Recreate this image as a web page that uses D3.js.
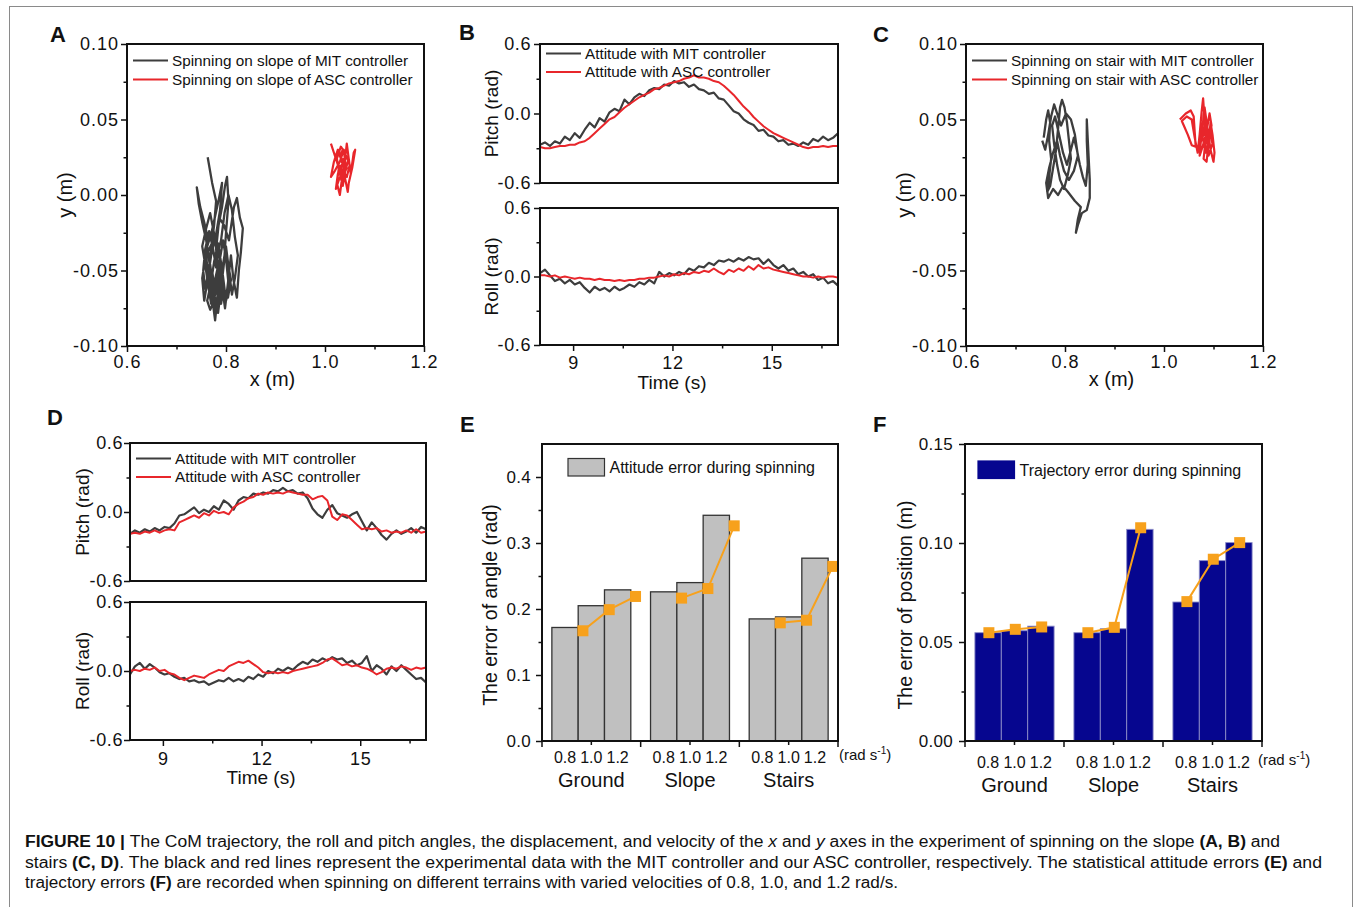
<!DOCTYPE html>
<html>
<head>
<meta charset="utf-8">
<script src="https://cdn.jsdelivr.net/npm/d3@7"></script>
<style>
  body { margin: 0; background: #fff; }
  svg text { font-family: "Liberation Sans", Arial, Helvetica, sans-serif; fill: #111; }
</style>
</head>
<body>
<svg id="fig" width="1355" height="907"></svg>
<script>
// ---------- data ----------

// A: CoM trajectory on slope (x, y in m)
const slopeTrajMIT = [
  [0.763,0.025],[0.772,0.008],[0.780,-0.004],[0.776,-0.020],[0.770,-0.035],[0.765,-0.050],[0.772,-0.068],[0.778,-0.083],
  [0.782,-0.070],[0.786,-0.052],[0.780,-0.036],[0.785,-0.020],[0.792,-0.008],[0.798,0.006],[0.802,0.012],[0.805,-0.004],
  [0.800,-0.025],[0.796,-0.045],[0.790,-0.062],[0.784,-0.078],[0.776,-0.065],[0.768,-0.048],[0.760,-0.030],[0.752,-0.018],
  [0.745,-0.006],[0.741,0.005],[0.748,-0.008],[0.756,-0.018],[0.763,-0.028],[0.758,-0.042],[0.752,-0.055],[0.756,-0.070],
  [0.762,-0.058],[0.770,-0.040],[0.778,-0.028],[0.788,-0.016],[0.796,-0.020],[0.806,-0.030],[0.816,-0.008],[0.822,-0.002],
  [0.828,-0.015],[0.834,-0.022],[0.830,-0.038],[0.826,-0.050],[0.822,-0.068],[0.815,-0.056],[0.810,-0.040],[0.804,-0.058],
  [0.798,-0.075],[0.792,-0.060],[0.786,-0.044],[0.778,-0.056],[0.770,-0.072],[0.764,-0.060],[0.758,-0.046],[0.752,-0.034],
  [0.760,-0.022],[0.768,-0.012],[0.775,-0.024],[0.782,-0.040],[0.790,-0.030],[0.797,-0.012],[0.805,0.000],[0.812,-0.010],
  [0.818,-0.028],[0.824,-0.040],[0.818,-0.055],[0.812,-0.066],[0.806,-0.050],[0.800,-0.034],[0.794,-0.048],[0.788,-0.066],
  [0.780,-0.078],[0.774,-0.062],[0.768,-0.046],[0.762,-0.034],[0.770,-0.026],[0.778,-0.014],[0.786,-0.002],[0.792,0.008],
  [0.788,-0.010],[0.780,-0.026],[0.760,-0.040],[0.766,-0.062],[0.772,-0.050],[0.778,-0.066],[0.784,-0.058],[0.790,-0.072],
  [0.796,-0.060],[0.790,-0.046],[0.784,-0.032],[0.776,-0.044],[0.770,-0.058],[0.762,-0.070],[0.768,-0.076],[0.776,-0.070],
  [0.782,-0.056],[0.788,-0.042],[0.794,-0.030],[0.800,-0.042],[0.806,-0.062],[0.800,-0.070],[0.794,-0.054],[0.786,-0.036],
  [0.780,-0.048],[0.774,-0.036],[0.766,-0.024],[0.758,-0.036],[0.754,-0.050],[0.758,-0.062],[0.764,-0.052],[0.772,-0.062],
  [0.780,-0.074],[0.786,-0.064],[0.792,-0.050],[0.798,-0.038],[0.804,-0.046],[0.810,-0.056],[0.804,-0.068],[0.796,-0.064],
  [0.788,-0.050],[0.780,-0.040]
];
const slopeTrajASC = [
  [1.012,0.034],[1.020,0.026],[1.028,0.018],[1.024,0.008],[1.030,0.000],[1.034,0.010],[1.040,0.022],[1.044,0.034],
  [1.048,0.024],[1.052,0.014],[1.058,0.028],[1.061,0.030],[1.055,0.018],[1.048,0.008],[1.046,0.002],[1.040,0.012],
  [1.034,0.024],[1.026,0.030],[1.018,0.022],[1.012,0.012],[1.020,0.016],[1.030,0.022],[1.038,0.030],[1.042,0.018],
  [1.036,0.006],[1.030,0.014],[1.024,0.024],[1.032,0.032],[1.040,0.028],[1.050,0.020],[1.044,0.012],[1.036,0.016],
  [1.028,0.010],[1.022,0.004],[1.026,0.014],[1.034,0.020],[1.042,0.026],[1.036,0.030],[1.030,0.026],[1.040,0.016],
  [1.046,0.022],[1.038,0.012],[1.032,0.018],[1.038,0.024],[1.044,0.018],[1.036,0.012],[1.030,0.020]
];

// C: CoM trajectory on stairs
const stairTrajMIT = [
  [0.757,0.038],[0.762,0.050],[0.766,0.056],[0.770,0.048],[0.768,0.036],[0.772,0.024],[0.768,0.012],[0.764,0.002],
  [0.770,0.006],[0.776,0.018],[0.782,0.030],[0.786,0.044],[0.790,0.058],[0.794,0.063],[0.799,0.058],[0.804,0.048],
  [0.808,0.036],[0.812,0.024],[0.806,0.014],[0.798,0.004],[0.790,0.010],[0.784,0.020],[0.778,0.034],[0.774,0.046],
  [0.780,0.052],[0.788,0.040],[0.796,0.028],[0.804,0.020],[0.812,0.030],[0.818,0.038],[0.824,0.030],[0.830,0.020],
  [0.836,0.012],[0.842,0.006],[0.846,0.020],[0.844,0.036],[0.844,0.050],[0.847,0.030],[0.850,0.010],[0.850,-0.002],
  [0.844,-0.010],[0.834,-0.012],[0.826,-0.020],[0.822,-0.025],[0.826,-0.016],[0.832,-0.008],[0.820,-0.004],[0.806,0.002],
  [0.796,0.006],[0.786,0.000],[0.776,0.004],[0.766,-0.002],[0.762,0.008],[0.768,0.018],[0.776,0.028],[0.784,0.036],
  [0.790,0.026],[0.798,0.016],[0.808,0.010],[0.818,0.016],[0.826,0.026],[0.820,0.040],[0.812,0.050],[0.802,0.054],
  [0.792,0.046],[0.784,0.054],[0.778,0.060],[0.772,0.052],[0.766,0.040],[0.760,0.030],[0.754,0.036]
];
const stairTrajASC = [
  [1.032,0.050],[1.044,0.054],[1.054,0.056],[1.060,0.052],[1.062,0.042],[1.064,0.032],[1.056,0.033],[1.048,0.040],
  [1.040,0.046],[1.036,0.049],[1.046,0.052],[1.056,0.050],[1.062,0.038],[1.068,0.028],[1.072,0.040],[1.076,0.055],
  [1.079,0.064],[1.082,0.050],[1.084,0.036],[1.080,0.024],[1.086,0.022],[1.090,0.034],[1.094,0.048],[1.098,0.040],
  [1.102,0.028],[1.100,0.022],[1.094,0.030],[1.088,0.044],[1.082,0.058],[1.078,0.046],[1.074,0.034],[1.072,0.026],
  [1.078,0.032],[1.086,0.042],[1.092,0.054],[1.096,0.046],[1.090,0.036],[1.084,0.028],[1.078,0.038],[1.084,0.048],
  [1.090,0.026],[1.098,0.034],[1.092,0.042]
];

// B, D: attitude vs time (s, rad)
const timeS = [
  8.00,8.15,8.30,8.45,8.60,8.75,8.90,9.05,9.20,9.35,
  9.50,9.65,9.80,9.95,10.10,10.25,10.40,10.55,10.70,10.85,
  11.00,11.15,11.30,11.45,11.60,11.75,11.90,12.05,12.20,12.35,
  12.50,12.65,12.80,12.95,13.10,13.25,13.40,13.55,13.70,13.85,
  14.00,14.15,14.30,14.45,14.60,14.75,14.90,15.05,15.20,15.35,
  15.50,15.65,15.80,15.95,16.10,16.25,16.40,16.55,16.70,16.85,
  17.00
];
const slopePitchMIT = [
  -0.27,-0.25,-0.28,-0.24,-0.26,-0.20,-0.23,-0.17,-0.21,-0.14,
  -0.08,-0.12,-0.04,-0.07,0.01,0.04,0.02,0.12,0.08,0.14,
  0.17,0.15,0.20,0.22,0.21,0.25,0.24,0.28,0.26,0.27,
  0.23,0.25,0.21,0.20,0.17,0.18,0.13,0.12,0.07,0.02,
  0.00,-0.05,-0.08,-0.10,-0.15,-0.14,-0.19,-0.20,-0.24,-0.23,
  -0.27,-0.26,-0.28,-0.25,-0.27,-0.22,-0.24,-0.20,-0.23,-0.21,
  -0.17
];
const slopePitchASC = [
  -0.29,-0.30,-0.30,-0.29,-0.28,-0.28,-0.27,-0.27,-0.25,-0.24,
  -0.21,-0.17,-0.13,-0.09,-0.05,-0.03,0.01,0.05,0.08,0.11,
  0.14,0.16,0.18,0.21,0.22,0.24,0.26,0.27,0.28,0.30,
  0.31,0.33,0.31,0.31,0.30,0.28,0.27,0.24,0.20,0.16,
  0.11,0.06,0.02,-0.03,-0.07,-0.11,-0.14,-0.17,-0.19,-0.21,
  -0.23,-0.25,-0.27,-0.29,-0.30,-0.29,-0.29,-0.28,-0.29,-0.28,
  -0.28
];
const slopeRollMIT = [
  0.03,0.06,0.01,-0.04,-0.02,-0.06,-0.03,-0.07,-0.05,-0.10,
  -0.14,-0.09,-0.12,-0.10,-0.13,-0.09,-0.12,-0.10,-0.07,-0.09,
  -0.05,-0.07,-0.03,-0.06,0.04,0.00,0.03,0.01,0.04,0.02,
  0.07,0.05,0.09,0.08,0.12,0.10,0.14,0.13,0.15,0.13,
  0.16,0.14,0.17,0.15,0.16,0.11,0.15,0.10,0.07,0.10,
  0.05,0.07,0.02,0.04,0.00,0.02,-0.03,-0.01,-0.06,-0.04,
  -0.08
];
const slopeRollASC = [
  0.01,0.01,0.00,0.01,-0.01,0.00,-0.01,-0.02,-0.01,-0.02,
  -0.02,-0.03,-0.02,-0.03,-0.03,-0.04,-0.03,-0.04,-0.03,-0.03,
  -0.02,-0.02,-0.01,-0.01,0.00,0.01,0.00,0.02,0.01,0.03,
  0.02,0.04,0.03,0.05,0.04,0.07,0.04,0.02,0.06,0.04,
  0.07,0.05,0.09,0.06,0.10,0.07,0.08,0.06,0.05,0.04,
  0.03,0.02,0.01,0.00,0.00,-0.01,0.00,-0.01,0.00,0.00,
  -0.01
];
const stairPitchMIT = [
  -0.19,-0.16,-0.18,-0.15,-0.17,-0.14,-0.16,-0.13,-0.14,-0.10,
  -0.03,-0.02,0.01,0.04,-0.01,0.02,0.00,0.05,0.02,0.10,
  0.07,0.02,0.10,0.13,0.12,0.16,0.15,0.17,0.16,0.19,
  0.18,0.21,0.18,0.19,0.16,0.17,0.12,0.03,-0.02,-0.05,
  0.02,0.06,-0.01,-0.03,-0.05,-0.02,0.00,-0.08,-0.16,-0.09,
  -0.14,-0.20,-0.24,-0.19,-0.16,-0.19,-0.17,-0.14,-0.18,-0.13,
  -0.15
];
const stairPitchASC = [
  -0.19,-0.18,-0.19,-0.17,-0.18,-0.16,-0.18,-0.16,-0.15,-0.16,
  -0.09,-0.07,-0.05,-0.03,-0.05,-0.01,-0.03,0.01,-0.01,0.00,
  -0.02,0.04,0.07,0.09,0.12,0.13,0.16,0.15,0.17,0.16,
  0.17,0.16,0.18,0.17,0.16,0.15,0.15,0.11,0.13,0.14,
  0.10,-0.04,-0.07,-0.02,-0.03,-0.07,-0.11,-0.15,-0.14,-0.15,
  -0.14,-0.17,-0.16,-0.18,-0.17,-0.18,-0.16,-0.18,-0.15,-0.18,
  -0.17
];
const stairRollMIT = [
  -0.03,0.04,0.07,0.02,0.06,0.03,-0.01,-0.03,-0.02,-0.05,
  -0.07,-0.06,-0.09,-0.08,-0.10,-0.09,-0.12,-0.10,-0.08,-0.09,
  -0.06,-0.09,-0.07,-0.09,-0.05,-0.07,-0.03,-0.05,0.00,-0.02,
  0.02,0.00,0.03,0.01,0.05,0.08,0.06,0.10,0.08,0.11,
  0.09,0.12,0.10,0.11,0.07,0.09,0.05,0.07,0.13,0.00,
  0.05,0.02,-0.03,0.04,0.00,0.05,0.01,-0.03,-0.07,-0.06,
  -0.10
];
const stairRollASC = [
  0.00,0.01,0.00,0.02,0.01,0.03,0.00,0.01,-0.02,-0.03,
  -0.06,-0.08,-0.06,-0.04,-0.05,-0.06,-0.03,-0.01,0.01,0.00,
  0.04,0.06,0.08,0.07,0.09,0.06,0.03,-0.01,-0.02,-0.01,
  -0.02,-0.01,-0.02,0.00,0.01,0.02,0.03,0.04,0.05,0.07,
  0.10,0.11,0.08,0.05,0.06,0.04,0.05,0.03,0.02,0.00,
  -0.03,-0.01,0.02,0.03,0.02,0.04,0.03,0.01,0.03,0.02,
  0.03
];

// E, F: statistical errors per terrain and spinning speed
const terrains = ["Ground", "Slope", "Stairs"];
const speeds = ["0.8", "1.0", "1.2"];
const attitudeBars = [[0.172, 0.205, 0.229], [0.226, 0.240, 0.342], [0.185, 0.188, 0.277]];
const attitudeLine = [[0.167, 0.199, 0.219], [0.2165, 0.231, 0.326], [0.179, 0.183, 0.2645]];
const positionBars = [[0.0547, 0.0557, 0.0580], [0.0547, 0.0567, 0.1069], [0.0702, 0.0911, 0.1002]];
const positionLine = [[0.0547, 0.0564, 0.0576], [0.0547, 0.0574, 0.1077], [0.0704, 0.0918, 0.1002]];

// ticks
const trajXTicks = [0.6, 0.8, 1.0, 1.2], trajXMinor = [0.7, 0.9, 1.1];
const trajYTicks = [-0.10, -0.05, 0.00, 0.05, 0.10], trajYMinor = [-0.075, -0.025, 0.025, 0.075];
const timeTicks = [9, 12, 15], timeMinor = [10.5, 13.5, 16.5];
const radTicks = [-0.6, 0.0, 0.6], radMinor = [-0.3, 0.3];
const angleTicks = [0.0, 0.1, 0.2, 0.3, 0.4], angleMinor = [0.05, 0.15, 0.25, 0.35];
const posTicks = [0.00, 0.05, 0.10, 0.15], posMinor = [0.025, 0.075, 0.125];

// ---------- drawing ----------
const FONT = '"Liberation Sans", Arial, Helvetica, sans-serif';
const INK = "#111";
const MIT = "#3d3d3d", ASC = "#e8262b", ORANGE = "#f7a11c";
const svg = d3.select("#fig");

svg.append("rect").attr("x", 9.5).attr("y", 6.5).attr("width", 1343).attr("height", 930)
  .attr("fill", "none").attr("stroke", "#8a8a8a").attr("stroke-width", 1);

function styleAxis(a, st) {
  a.select(".domain").remove();
  a.attr("font-family", FONT).attr("font-size", st.fs);
  a.selectAll("line").attr("stroke", INK).attr("stroke-width", 1.5);
  a.selectAll("text").attr("fill", INK).attr("letter-spacing", st.ls || 0);
}

function leftAxis(scale, x, majors, minors, fmt, st) {
  const a = svg.append("g").attr("transform", `translate(${x},0)`)
    .call(d3.axisLeft(scale).tickValues(majors).tickFormat(fmt).tickSize(6).tickPadding(st.pad));
  styleAxis(a, st);
  const m = svg.append("g").attr("transform", `translate(${x},0)`)
    .call(d3.axisLeft(scale).tickValues(minors).tickFormat("").tickSize(3.5));
  styleAxis(m, st);
}

function bottomAxis(scale, y, majors, minors, fmt, st) {
  const a = svg.append("g").attr("transform", `translate(0,${y})`)
    .call(d3.axisBottom(scale).tickValues(majors).tickFormat(fmt).tickSize(6).tickPadding(st.pad));
  styleAxis(a, st);
  const m = svg.append("g").attr("transform", `translate(0,${y})`)
    .call(d3.axisBottom(scale).tickValues(minors).tickFormat("").tickSize(3.5));
  styleAxis(m, st);
}

function frame(x0, y0, x1, y1) {
  svg.append("rect").attr("x", x0).attr("y", y0).attr("width", x1 - x0).attr("height", y1 - y0)
    .attr("fill", "none").attr("stroke", INK).attr("stroke-width", 2);
}

function panelLetter(t, x, y) {
  svg.append("text").attr("x", x).attr("y", y).attr("font-size", 22).attr("font-weight", "bold").text(t);
}

function yTitle(t, cx, cy, fs) {
  svg.append("text").attr("transform", `translate(${cx},${cy}) rotate(-90)`)
    .attr("text-anchor", "middle").attr("dy", "0.35em").attr("font-size", fs).text(t);
}

function xTitle(t, cx, baseline, fs) {
  svg.append("text").attr("x", cx).attr("y", baseline).attr("text-anchor", "middle")
    .attr("font-size", fs).text(t);
}

function lineLegend(x, y, labels, gap) {
  labels.forEach((lab, i) => {
    const yy = y + i * gap;
    svg.append("line").attr("x1", x).attr("x2", x + 35).attr("y1", yy).attr("y2", yy)
      .attr("stroke", i === 0 ? MIT : ASC).attr("stroke-width", 2.2);
    svg.append("text").attr("x", x + 39).attr("y", yy).attr("dy", "0.35em")
      .attr("font-size", 15.3).text(lab);
  });
}

const fmt2 = v => v.toFixed(2), fmt1 = v => v.toFixed(1);

// trajectory panels (A, C)
function trajPanel(box, mit, asc, letter, letterX, labels, yTitleX) {
  const x = d3.scaleLinear().domain([0.6, 1.2]).range([box.x0, box.x1]);
  const y = d3.scaleLinear().domain([-0.10, 0.10]).range([box.y1, box.y0]);
  const line = d3.line().x(d => x(d[0])).y(d => y(d[1]));
  svg.append("path").datum(mit).attr("d", line).attr("fill", "none")
    .attr("stroke", MIT).attr("stroke-width", 2.3).attr("stroke-linejoin", "round");
  svg.append("path").datum(asc).attr("d", line).attr("fill", "none")
    .attr("stroke", ASC).attr("stroke-width", 2.2).attr("stroke-linejoin", "round");
  frame(box.x0, box.y0, box.x1, box.y1);
  leftAxis(y, box.x0, trajYTicks, trajYMinor, fmt2, { fs: 18, pad: 2, ls: 1 });
  bottomAxis(x, box.y1, trajXTicks, trajXMinor, fmt1, { fs: 18, pad: 3, ls: 1 });
  xTitle("x (m)", (box.x0 + box.x1) / 2 - 3, 386, 20);
  yTitle("y (m)", yTitleX, y(0), 20);
  lineLegend(box.x0 + 6, 60.5, labels, 19);
  panelLetter(letter, letterX, 42);
}

trajPanel({ x0: 127, x1: 424, y0: 44, y1: 346 }, slopeTrajMIT, slopeTrajASC, "A", 50,
  ["Spinning on slope of MIT controller", "Spinning on slope of ASC controller"], 65);
trajPanel({ x0: 966, x1: 1263, y0: 44, y1: 346 }, stairTrajMIT, stairTrajASC, "C", 873,
  ["Spinning on stair with MIT controller", "Spinning on stair with ASC controller"], 904);

// attitude panels (B, D)
function attitudePanel(cfg) {
  const x = d3.scaleLinear().domain([8, 17]).range([cfg.x0, cfg.x1]);
  const plots = [
    { y0: cfg.p0, y1: cfg.p1, mit: cfg.pitchMIT, asc: cfg.pitchASC, title: "Pitch (rad)" },
    { y0: cfg.r0, y1: cfg.r1, mit: cfg.rollMIT, asc: cfg.rollASC, title: "Roll (rad)" }
  ];
  plots.forEach((p, k) => {
    const y = d3.scaleLinear().domain([-0.6, 0.6]).range([p.y1, p.y0]);
    const line = d3.line().x((d, i) => x(timeS[i])).y(d => y(d));
    svg.append("path").datum(p.mit).attr("d", line).attr("fill", "none")
      .attr("stroke", MIT).attr("stroke-width", 2.2).attr("stroke-linejoin", "round");
    svg.append("path").datum(p.asc).attr("d", line).attr("fill", "none")
      .attr("stroke", ASC).attr("stroke-width", 2).attr("stroke-linejoin", "round");
    frame(cfg.x0, p.y0, cfg.x1, p.y1);
    leftAxis(y, cfg.x0, radTicks, radMinor, fmt1, { fs: 18, pad: cfg.ypad, ls: 0.6 });
    yTitle(p.title, cfg.titleX, y(0), 19);
    if (k === 1) bottomAxis(x, p.y1, timeTicks, timeMinor, d3.format("d"), { fs: 18, pad: cfg.xpad, ls: 0.6 });
  });
  xTitle("Time (s)", (cfg.x0 + cfg.x1) / 2 - 17, cfg.timeBase, 19);
  lineLegend(cfg.x0 + 6, cfg.legY, ["Attitude with MIT controller", "Attitude with ASC controller"], 18.5);
}

attitudePanel({ x0: 540, x1: 838, p0: 44, p1: 183, r0: 208, r1: 345, titleX: 491, timeBase: 389, legY: 53.5,
  ypad: 3, xpad: 5,
  pitchMIT: slopePitchMIT, pitchASC: slopePitchASC, rollMIT: slopeRollMIT, rollASC: slopeRollASC });
panelLetter("B", 459, 40);
attitudePanel({ x0: 130, x1: 426, p0: 443, p1: 581, r0: 602, r1: 740, titleX: 82, timeBase: 784, legY: 458.5,
  ypad: 1, xpad: 6,
  pitchMIT: stairPitchMIT, pitchASC: stairPitchASC, rollMIT: stairRollMIT, rollASC: stairRollASC });
panelLetter("D", 47, 425);

// bar panels (E, F)
function barPanel(cfg) {
  const gx = d3.scaleBand().domain(terrains).range([cfg.x0, cfg.x1]).paddingInner(0).paddingOuter(0);
  const bx = d3.scaleBand().domain(speeds).range([0, gx.bandwidth() * 0.8]);
  const innerShift = gx.bandwidth() * 0.1;
  const y = d3.scaleLinear().domain(cfg.domain).range([cfg.y1, cfg.y0]);

  const groups = svg.append("g").selectAll("g").data(terrains).join("g")
    .attr("transform", t => `translate(${gx(t) + innerShift},0)`);
  groups.selectAll("rect").data((t, gi) => cfg.bars[gi].map((v, si) => ({ v, s: speeds[si] })))
    .join("rect")
    .attr("x", d => bx(d.s)).attr("width", bx.bandwidth())
    .attr("y", d => y(d.v)).attr("height", d => y(0) - y(d.v))
    .attr("fill", cfg.fill).attr("stroke", cfg.stroke).attr("stroke-width", cfg.strokeW);

  const mx = s => bx(s) + bx.bandwidth() * (0.5 + cfg.markShift);
  const ln = d3.line().x(d => mx(d.s)).y(d => y(d.v));
  groups.append("path").datum((t, gi) => cfg.line[gi].map((v, si) => ({ v, s: speeds[si] })))
    .attr("d", ln).attr("fill", "none").attr("stroke", ORANGE).attr("stroke-width", 2);
  groups.selectAll("rect.mk").data((t, gi) => cfg.line[gi].map((v, si) => ({ v, s: speeds[si] })))
    .join("rect").attr("class", "mk")
    .attr("x", d => mx(d.s) - 5.5).attr("y", d => y(d.v) - 5.5)
    .attr("width", 11).attr("height", 11).attr("fill", ORANGE);

  frame(cfg.x0, cfg.y0, cfg.x1, cfg.y1);
  leftAxis(y, cfg.x0, cfg.ticks, cfg.minor, cfg.fmt, { fs: 17, pad: cfg.ypad, ls: 0.3 });

  // category axis: major ticks at group borders, minor at group centres
  const border = [cfg.x0].concat(terrains.map(t => gx(t) + gx.bandwidth()));
  svg.append("g").selectAll("line").data(border).join("line")
    .attr("x1", d => d).attr("x2", d => d).attr("y1", cfg.y1).attr("y2", cfg.y1 + 6)
    .attr("stroke", INK).attr("stroke-width", 1.5);
  svg.append("g").selectAll("line").data(terrains).join("line")
    .attr("x1", t => gx(t) + gx.bandwidth() / 2).attr("x2", t => gx(t) + gx.bandwidth() / 2)
    .attr("y1", cfg.y1).attr("y2", cfg.y1 + 4).attr("stroke", INK).attr("stroke-width", 1.5);

  terrains.forEach(t => {
    speeds.forEach(s => {
      svg.append("text").attr("x", gx(t) + innerShift + bx(s) + bx.bandwidth() / 2)
        .attr("y", cfg.speedY).attr("dy", "0.35em").attr("text-anchor", "middle")
        .attr("font-size", 16).text(s);
    });
    svg.append("text").attr("x", gx(t) + gx.bandwidth() / 2).attr("y", cfg.groupY)
      .attr("dy", "0.35em").attr("text-anchor", "middle").attr("font-size", 20).text(t);
  });
  const unit = svg.append("text").attr("x", cfg.unitX).attr("y", cfg.speedY - 2)
    .attr("dy", "0.35em").attr("font-size", 15);
  unit.append("tspan").text("(rad s");
  unit.append("tspan").attr("dy", -6).attr("font-size", 10).text("-1");
  unit.append("tspan").attr("dy", 6).text(")");

  svg.append("rect").attr("x", cfg.leg.x).attr("y", cfg.leg.y).attr("width", 36.5).attr("height", 17.5)
    .attr("fill", cfg.fill).attr("stroke", cfg.legStroke).attr("stroke-width", 1.2);
  svg.append("text").attr("x", cfg.leg.x + 41.5).attr("y", cfg.leg.y + 9).attr("dy", "0.35em")
    .attr("font-size", 16).text(cfg.legText);

  yTitle(cfg.title, cfg.titleX, 605, 19.5);
}

barPanel({ x0: 542, x1: 838, y0: 444, y1: 741, domain: [0, 0.45],
  bars: attitudeBars, line: attitudeLine, fill: "#c0c0c0", stroke: "#333", strokeW: 1.3, markShift: 0.68,
  ticks: angleTicks, minor: angleMinor, fmt: fmt1, ypad: 5,
  speedY: 757, groupY: 780, unitX: 839,
  leg: { x: 568, y: 458.5 }, legStroke: "#333", legText: "Attitude error during spinning",
  title: "The error of angle (rad)", titleX: 490 });
panelLetter("E", 460, 432);

barPanel({ x0: 965, x1: 1262, y0: 444, y1: 741, domain: [0, 0.15],
  bars: positionBars, line: positionLine, fill: "#06068f", stroke: "#8c8cc8", strokeW: 0.9, markShift: 0.03,
  ticks: posTicks, minor: posMinor, fmt: fmt2, ypad: 6,
  speedY: 762, groupY: 785, unitX: 1258,
  leg: { x: 978, y: 461 }, legStroke: "#06068f", legText: "Trajectory error during spinning",
  title: "The error of position (m)", titleX: 905 });
panelLetter("F", 873, 432);

// caption
const caption = [
  { y: 847, len: 1255, parts: [["FIGURE 10 | ", "b"], ["The CoM trajectory, the roll and pitch angles, the displacement, and velocity of the "], ["x", "i"], [" and "], ["y", "i"], [" axes in the experiment of spinning on the slope "], ["(A, B)", "b"], [" and"]] },
  { y: 867.5, len: 1297, parts: [["stairs "], ["(C, D)", "b"], [". The black and red lines represent the experimental data with the MIT controller and our ASC controller, respectively. The statistical attitude errors "], ["(E)", "b"], [" and"]] },
  { y: 887.5, len: 873, parts: [["trajectory errors "], ["(F)", "b"], [" are recorded when spinning on different terrains with varied velocities of 0.8, 1.0, and 1.2 rad/s."]] }
];
caption.forEach(c => {
  const t = svg.append("text").attr("x", 25).attr("y", c.y).attr("font-size", 16)
    .attr("textLength", c.len).attr("lengthAdjust", "spacingAndGlyphs").attr("fill", "#222");
  c.parts.forEach(p => {
    const s = t.append("tspan").text(p[0]);
    if (p[1] === "b") s.attr("font-weight", "bold");
    if (p[1] === "i") s.attr("font-style", "italic");
  });
});
</script>
</body>
</html>
